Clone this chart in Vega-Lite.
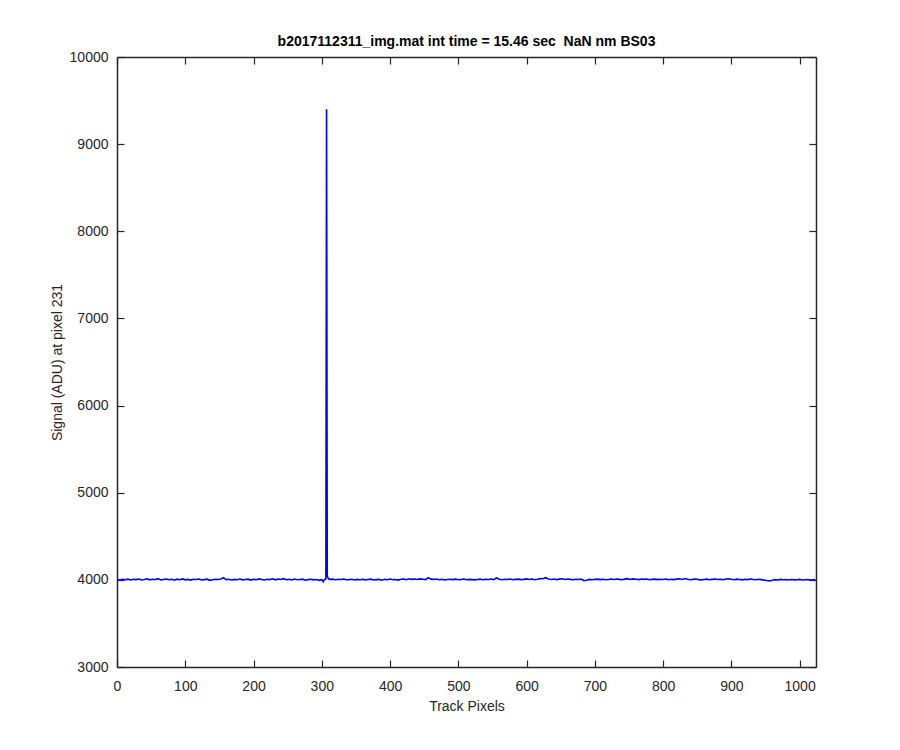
{
  "$schema": "https://vega.github.io/schema/vega-lite/v6.json",
  "width": 699,
  "height": 610,
  "autosize": "none",
  "padding": {"left": 117, "top": 57, "right": 84, "bottom": 83},
  "background": "white",
  "config": {
    "font": "Liberation Sans",
    "view": {"stroke": null},
    "axis": {"grid": false, "domainColor": "#262626", "domainWidth": 1.5, "tickColor": "#262626", "tickWidth": 1.2, "tickSize": -7, "labelColor": "#262626", "labelFontSize": 14, "labelFont": "Liberation Sans", "labelFlush": false, "titleFont": "Liberation Sans", "titleFontSize": 14, "titleFontWeight": "normal", "titleColor": "#262626", "format": "d"}
  },
  "title": {"text": "b2017112311_img.mat int time = 15.46 sec \u00a0NaN nm BS03", "fontSize": 14, "fontWeight": "bold", "color": "#000000", "font": "Liberation Sans", "anchor": "middle", "offset": 1},
  "data": {"values": [
{"x":0,"y":4002},{"x":4,"y":3997},{"x":8,"y":4005},{"x":12,"y":4001},{"x":16,"y":4008},{"x":20,"y":3998},{"x":24,"y":4006},{"x":28,"y":4003},{"x":32,"y":4010},{"x":36,"y":3999},{"x":40,"y":4004},{"x":44,"y":4012},{"x":48,"y":4000},{"x":52,"y":4007},{"x":56,"y":4003},{"x":60,"y":4014},{"x":64,"y":3998},{"x":68,"y":4005},{"x":72,"y":4009},{"x":76,"y":4001},{"x":80,"y":4006},{"x":84,"y":3996},{"x":88,"y":4008},{"x":92,"y":4002},{"x":96,"y":4011},{"x":100,"y":4000},{"x":104,"y":4005},{"x":108,"y":3997},{"x":112,"y":4007},{"x":116,"y":4004},{"x":120,"y":4009},{"x":124,"y":3999},{"x":128,"y":4003},{"x":132,"y":4008},{"x":136,"y":3995},{"x":140,"y":4002},{"x":144,"y":4006},{"x":148,"y":4004},{"x":152,"y":4010},{"x":156,"y":4024},{"x":160,"y":4003},{"x":164,"y":4007},{"x":168,"y":3998},{"x":172,"y":4005},{"x":176,"y":4001},{"x":180,"y":4009},{"x":184,"y":4000},{"x":188,"y":4004},{"x":192,"y":4008},{"x":196,"y":3997},{"x":200,"y":4006},{"x":204,"y":4002},{"x":208,"y":4011},{"x":212,"y":4005},{"x":216,"y":3999},{"x":220,"y":4007},{"x":224,"y":4003},{"x":228,"y":4012},{"x":232,"y":4000},{"x":236,"y":4009},{"x":240,"y":4004},{"x":244,"y":4014},{"x":248,"y":4002},{"x":252,"y":4006},{"x":256,"y":3998},{"x":260,"y":4010},{"x":264,"y":4001},{"x":268,"y":4005},{"x":272,"y":4008},{"x":276,"y":3996},{"x":280,"y":4003},{"x":284,"y":4007},{"x":288,"y":4000},{"x":292,"y":4004},{"x":296,"y":3994},{"x":300,"y":4002},{"x":302,"y":3978},{"x":304,"y":4005},{"x":306,"y":4010},{"x":307,"y":9400},{"x":308,"y":4040},{"x":310,"y":4012},{"x":312,"y":4005},{"x":316,"y":4008},{"x":320,"y":4002},{"x":324,"y":4006},{"x":328,"y":4004},{"x":332,"y":4009},{"x":336,"y":4001},{"x":340,"y":4003},{"x":344,"y":4007},{"x":348,"y":3998},{"x":352,"y":4005},{"x":356,"y":4002},{"x":360,"y":4006},{"x":364,"y":4000},{"x":368,"y":4004},{"x":372,"y":4008},{"x":376,"y":3999},{"x":380,"y":4003},{"x":384,"y":4005},{"x":388,"y":3996},{"x":392,"y":4006},{"x":396,"y":4002},{"x":400,"y":4009},{"x":404,"y":4001},{"x":408,"y":4004},{"x":412,"y":3997},{"x":416,"y":4007},{"x":420,"y":4010},{"x":424,"y":4002},{"x":428,"y":4012},{"x":432,"y":4006},{"x":436,"y":4009},{"x":440,"y":4004},{"x":444,"y":4011},{"x":448,"y":4007},{"x":452,"y":4003},{"x":456,"y":4026},{"x":460,"y":4008},{"x":464,"y":4005},{"x":468,"y":4010},{"x":472,"y":4002},{"x":476,"y":4006},{"x":480,"y":3999},{"x":484,"y":4004},{"x":488,"y":4007},{"x":492,"y":4003},{"x":496,"y":4008},{"x":500,"y":4001},{"x":504,"y":4005},{"x":508,"y":4009},{"x":512,"y":4002},{"x":516,"y":4006},{"x":520,"y":4003},{"x":524,"y":4000},{"x":528,"y":4005},{"x":532,"y":4008},{"x":536,"y":4002},{"x":540,"y":4006},{"x":544,"y":4004},{"x":548,"y":4009},{"x":552,"y":4003},{"x":556,"y":4022},{"x":560,"y":4006},{"x":564,"y":4001},{"x":568,"y":4007},{"x":572,"y":4004},{"x":576,"y":4010},{"x":580,"y":4002},{"x":584,"y":4005},{"x":588,"y":4008},{"x":592,"y":4003},{"x":596,"y":4006},{"x":600,"y":4011},{"x":604,"y":4004},{"x":608,"y":4009},{"x":612,"y":4002},{"x":616,"y":4007},{"x":620,"y":4014},{"x":624,"y":4012},{"x":628,"y":4025},{"x":632,"y":4010},{"x":636,"y":4005},{"x":640,"y":4009},{"x":644,"y":4003},{"x":648,"y":4008},{"x":652,"y":4012},{"x":656,"y":4004},{"x":660,"y":4009},{"x":664,"y":4006},{"x":668,"y":4002},{"x":672,"y":4007},{"x":676,"y":4004},{"x":680,"y":4010},{"x":684,"y":3992},{"x":688,"y":3996},{"x":692,"y":4005},{"x":696,"y":4002},{"x":700,"y":4006},{"x":704,"y":4008},{"x":708,"y":4003},{"x":712,"y":4007},{"x":716,"y":4001},{"x":720,"y":4005},{"x":724,"y":4009},{"x":728,"y":4004},{"x":732,"y":4010},{"x":736,"y":4006},{"x":740,"y":4002},{"x":744,"y":4008},{"x":748,"y":4014},{"x":752,"y":4005},{"x":756,"y":4011},{"x":760,"y":4007},{"x":764,"y":4003},{"x":768,"y":4010},{"x":772,"y":4006},{"x":776,"y":4009},{"x":780,"y":4002},{"x":784,"y":4005},{"x":788,"y":4008},{"x":792,"y":4003},{"x":796,"y":4007},{"x":800,"y":4004},{"x":804,"y":4009},{"x":808,"y":4001},{"x":812,"y":4006},{"x":816,"y":4003},{"x":820,"y":4008},{"x":824,"y":4012},{"x":828,"y":4005},{"x":832,"y":4015},{"x":836,"y":4007},{"x":840,"y":4002},{"x":844,"y":4006},{"x":848,"y":4009},{"x":852,"y":4003},{"x":856,"y":4000},{"x":860,"y":4005},{"x":864,"y":4008},{"x":868,"y":4002},{"x":872,"y":4006},{"x":876,"y":4010},{"x":880,"y":4004},{"x":884,"y":4007},{"x":888,"y":4001},{"x":892,"y":4009},{"x":896,"y":4012},{"x":900,"y":4006},{"x":904,"y":4002},{"x":908,"y":4008},{"x":912,"y":4004},{"x":916,"y":4000},{"x":920,"y":4006},{"x":924,"y":4003},{"x":928,"y":4009},{"x":932,"y":4005},{"x":936,"y":4001},{"x":940,"y":4007},{"x":944,"y":4003},{"x":948,"y":3997},{"x":952,"y":3992},{"x":956,"y":3988},{"x":960,"y":3996},{"x":964,"y":4002},{"x":968,"y":3998},{"x":972,"y":4005},{"x":976,"y":4001},{"x":980,"y":4003},{"x":984,"y":3999},{"x":988,"y":4004},{"x":992,"y":4000},{"x":996,"y":4002},{"x":1000,"y":4005},{"x":1004,"y":3998},{"x":1008,"y":4001},{"x":1012,"y":4003},{"x":1016,"y":3999},{"x":1020,"y":4002},{"x":1023,"y":4004}
  ]},
  "layer": [
    {
      "mark": {"type": "line", "color": "#0000ff", "strokeWidth": 1.6, "clip": true},
      "encoding": {
        "x": {"field": "x", "type": "quantitative", "scale": {"domain": [0, 1024], "nice": false, "zero": false},
              "axis": {"orient": "bottom", "title": "Track Pixels", "values": [0,100,200,300,400,500,600,700,800,900,1000], "labelPadding": 19, "titlePadding": 6}},
        "y": {"field": "y", "type": "quantitative", "scale": {"domain": [3000, 10000], "nice": false, "zero": false},
              "axis": {"orient": "left", "title": "Signal (ADU) at pixel 231", "values": [3000,4000,5000,6000,7000,8000,9000,10000], "labelPadding": 16, "titlePadding": 5}}
      }
    },
    {
      "mark": {"type": "line", "opacity": 0},
      "encoding": {
        "x": {"field": "x", "type": "quantitative", "scale": {"domain": [0, 1024], "nice": false, "zero": false},
              "axis": {"orient": "top", "title": null, "labels": false, "values": [0,100,200,300,400,500,600,700,800,900,1000]}},
        "y": {"field": "y", "type": "quantitative", "scale": {"domain": [3000, 10000], "nice": false, "zero": false},
              "axis": {"orient": "right", "title": null, "labels": false, "values": [3000,4000,5000,6000,7000,8000,9000,10000]}}
      }
    }
  ],
  "resolve": {"axis": {"x": "independent", "y": "independent"}}
}
